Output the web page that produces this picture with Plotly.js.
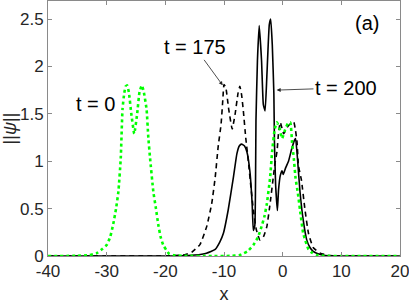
<!DOCTYPE html>
<html>
<head>
<meta charset="utf-8">
<script src="https://cdn.plot.ly/plotly-3.0.1.min.js"></script>
<style>html,body{margin:0;padding:0;background:#fff;}#chart{width:409px;height:305px;}</style>
</head>
<body>
<div id="chart"></div>
<script>
// t = 0 (green dotted)
var x_t0 = [-40, -35, -33, -31.7, -30.8, -30, -29.4, -28.9, -28.4, -28.0, -27.6, -27.3, -27.0, -26.75, -26.5, -26.2, -25.8, -25.3, -24.8, -24.4, -24.0, -23.7, -23.2, -22.9, -22.6, -22.05, -21.6, -21.2, -20.8, -20.35, -19.8, -19.3, -18.5, -17, -12, -9, -7.3, -6, -5.0, -4.2, -3.6, -3.1, -2.7, -2.15, -1.8, -1.35, -0.97, -0.55, -0.1, 0.4, 0.9, 1.3, 1.6, 1.9, 2.2, 2.6, 2.95, 3.5, 4.4, 5.0, 5.8, 7, 10, 20];
var y_t0 = [0, 0.002, 0.01, 0.03, 0.07, 0.115, 0.2, 0.33, 0.5, 0.68, 1.03, 1.55, 1.72, 1.79, 1.80, 1.72, 1.5, 1.29, 1.5, 1.73, 1.80, 1.74, 1.55, 1.25, 1.03, 0.68, 0.5, 0.33, 0.2, 0.115, 0.06, 0.02, 0.008, 0.002, 0, 0.001, 0.01, 0.05, 0.115, 0.2, 0.31, 0.42, 0.55, 0.82, 1.10, 1.34, 1.41, 1.35, 1.24, 1.33, 1.40, 1.41, 1.20, 1.03, 0.82, 0.66, 0.49, 0.24, 0.07, 0.035, 0.01, 0.002, 0, 0];

// t = 175 (black dashed)
var x_t175 = [-40, -20, -17, -15.5, -14.1, -12.95, -12.1, -11.5, -11.0, -10.5, -10.2, -10.0, -9.7, -9.2, -8.6, -8.1, -7.6, -7.3, -7.0, -6.7, -6.3, -5.85, -5.4, -5.0, -4.5, -3.9, -3.3, -2.7, -2.15, -1.6, -1.3, -0.97, -0.7, -0.4, 0.17, 0.8, 1.4, 1.9, 2.2, 2.45, 2.7, 3.2, 3.8, 4.4, 5.2, 6.4, 8, 10, 20];
var y_t175 = [0, 0, 0.01, 0.04, 0.12, 0.31, 0.55, 0.83, 1.15, 1.39, 1.65, 1.81, 1.78, 1.55, 1.34, 1.5, 1.72, 1.79, 1.7, 1.53, 1.25, 1.0, 0.72, 0.49, 0.28, 0.17, 0.2, 0.31, 0.55, 0.83, 0.98, 1.1, 1.3, 1.41, 1.29, 1.36, 1.40, 1.41, 1.32, 1.2, 0.95, 0.8, 0.49, 0.24, 0.09, 0.03, 0.005, 0, 0];

// t = 200 (black solid)
var x_t200 = [-40, -18, -15, -13, -11.5, -10.7, -10.1, -9.3, -8.4, -7.8, -7.4, -7.0, -6.5, -6.1, -5.6, -5.2, -5.0, -4.75, -4.6, -4.55, -4.3, -4.0, -3.6, -3.3, -3.0, -2.7, -2.28, -2.04, -1.77, -1.5, -1.4, -1.2, -0.9, -0.7, -0.4, -0.1, 0.1, 0.5, 1.0, 1.5, 2.0, 2.2, 2.5, 2.95, 3.5, 4.1, 4.65, 5.2, 5.8, 7, 9, 20];
var y_t200 = [0, 0, 0.01, 0.03, 0.07, 0.15, 0.24, 0.48, 0.83, 1.08, 1.16, 1.18, 1.16, 1.1, 0.9, 0.55, 0.27, 0.32, 1.0, 1.43, 2.06, 2.43, 2.06, 1.6, 1.53, 1.89, 2.44, 2.50, 2.23, 1.71, 1.2, 0.75, 0.48, 0.7, 0.85, 0.9, 0.86, 0.93, 1.0, 1.12, 1.22, 1.24, 1.05, 0.68, 0.38, 0.17, 0.09, 0.05, 0.03, 0.008, 0, 0];

var xTicks = [-40, -30, -20, -10, 0, 10, 20];
var yTicks = [0, 0.5, 1, 1.5, 2, 2.5];

var FONT = 'Liberation Sans, Arial, Helvetica, sans-serif';

var traces = [
  {x: x_t200, y: y_t200, mode: 'lines', line: {color: '#000000', width: 1.6, shape: 'spline', smoothing: 0.4}, hoverinfo: 'skip'},
  {x: x_t175, y: y_t175, mode: 'lines', line: {color: '#000000', width: 1.6, dash: '5px,4px', shape: 'spline', smoothing: 0.4}, hoverinfo: 'skip'},
  {x: x_t0, y: y_t0, mode: 'lines', line: {color: '#00ff00', width: 2.6, dash: 'dot', shape: 'spline', smoothing: 0.4}, hoverinfo: 'skip'}
];

var axisCommon = {
  showline: true, linecolor: '#8a8a8a', linewidth: 1, mirror: 'ticks',
  ticks: 'inside', ticklen: 4, tickcolor: '#8a8a8a', tickwidth: 1,
  showgrid: false, zeroline: false, ticklabeloverflow: 'allow',
  tickfont: {family: FONT, size: 17, color: '#262626'}
};

var layout = {
  width: 409, height: 305,
  margin: {l: 48, r: 9, t: 1, b: 49},
  paper_bgcolor: '#ffffff', plot_bgcolor: '#ffffff',
  showlegend: false,
  xaxis: Object.assign({}, axisCommon, {
    range: [-40, 20], tickvals: xTicks, ticktext: xTicks.map(String),
    title: {text: 'x', font: {family: FONT, size: 18, color: '#262626'}, standoff: 6}
  }),
  yaxis: Object.assign({}, axisCommon, {
    range: [0, 2.69], tickvals: yTicks, ticktext: yTicks.map(String),
    title: {text: '||<i>ψ</i>||', font: {family: FONT, size: 18, color: '#262626'}, standoff: 2}
  }),
  annotations: [
    {x: -31.9, y: 1.607, xref: 'x', yref: 'y', text: 't = 0', showarrow: false,
     font: {family: FONT, size: 20, color: '#000'}},
    {x: -10.22, y: 1.80, xref: 'x', yref: 'y', text: 't = 175', showarrow: true,
     ax: -27.7, ay: -38, arrowhead: 2, arrowsize: 1, arrowwidth: 0.8, arrowcolor: '#222',
     font: {family: FONT, size: 20, color: '#000'}},
    {x: -1.02, y: 1.75, xref: 'x', yref: 'y', text: 't = 200', showarrow: true,
     ax: 69.3, ay: -2.3, arrowhead: 2, arrowsize: 1, arrowwidth: 0.8, arrowcolor: '#222',
     font: {family: FONT, size: 20, color: '#000'}},
    {x: 14.32, y: 2.458, xref: 'x', yref: 'y', text: '(a)', showarrow: false,
     font: {family: FONT, size: 20, color: '#000'}}
  ]
};

Plotly.newPlot('chart', traces, layout, {staticPlot: true, displayModeBar: false});
</script>
</body>
</html>
